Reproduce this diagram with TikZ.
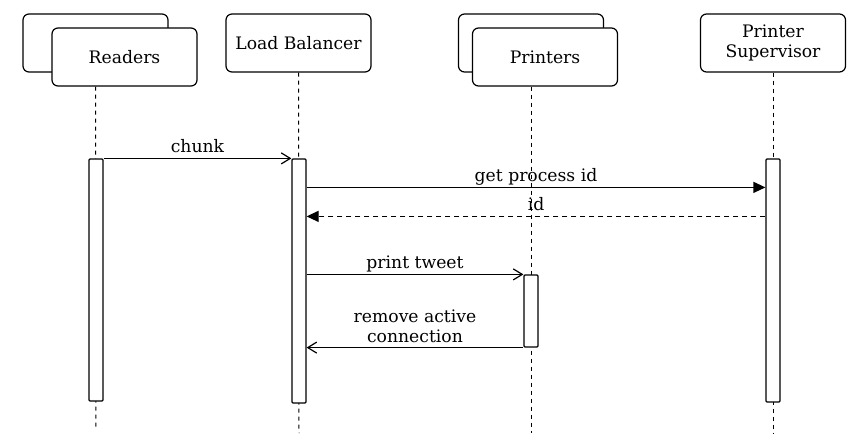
\documentclass[tikz,border=0pt]{standalone}
\usepackage{fontspec}
\setmainfont{DejaVu Serif}
\usetikzlibrary{arrows.meta,positioning,calc}
\tikzset{
        actor/.style = {draw, rectangle, rounded corners=6pt,
            minimum width=145pt, minimum height=58pt,
            align=center, fill=white, line width=1.2pt},
        bar/.style = {draw, rectangle, rounded corners=1pt, fill=white,
            minimum width=14pt, inner sep=0pt, line width=1.2pt},
        lifeline/.style = {draw, dash pattern=on 4pt off 4pt, line width=1pt},
        msg/.style = {draw, -{Straight Barb[length=9pt,width=11pt]}, line width=1.2pt},
        call/.style = {draw, -{Triangle[length=12pt,width=11pt]}, line width=1.2pt},
        reply/.style = {call, dash pattern=on 5pt off 4pt},
        lbl/.style = {midway, above=1.5pt, text depth=0pt},
    }

\begin{document}
\begin{tikzpicture}[x=1pt, y=-1pt, font=\fontsize{17.2}{20}\selectfont]
    \useasboundingbox (0,0) rectangle (864,435);

    % heads
    \node[actor] (rdback) at (95.5,43) {};
    \node[actor] (rd) at (124.5,57) {Readers};
    \node[actor] (lb) at (298.5,43) {Load Balancer};
    \node[actor] (prback) at (531,43) {};
    \node[actor] (pr) at (545,57) {Printers};
    \node[actor] (sp) at (773,43) {Printer\\Supervisor};

    % lifelines
    \coordinate (rdend) at (96,430);
    \coordinate (lbend) at (299,433);
    \coordinate (prend) at (531,433);
    \coordinate (spend) at (773,433);
    \draw[lifeline] (rdback |- rd.south) -- (rdend);
    \draw[lifeline] (lb.south) -- (lbend);
    \draw[lifeline] (prback |- pr.south) -- (prend);
    \draw[lifeline] (sp.south) -- (spend);

    % activations
    \node[bar, minimum height=242pt] (rdbar) at (96,280) {};
    \node[bar, minimum height=244pt] (lbbar) at (299,281) {};
    \node[bar, minimum height=72pt] (prbar) at (531,311) {};
    \node[bar, minimum height=243pt] (spbar) at (773,280.5) {};

    % messages
    \draw[msg] (rdbar.north east) -- (lbbar.north west)
        node[lbl] {chunk};
    \draw[call] ([yshift=-29pt]lbbar.north east) -- ([yshift=-29pt]lbbar.north east -| spbar.west)
        node[lbl] {get process id};
    \draw[reply] ([yshift=-58pt]spbar.north west) -- ([yshift=-58pt]spbar.north west -| lbbar.east)
        node[lbl] {id};
    \draw[msg] (prbar.north west -| lbbar.east) -- (prbar.north west)
        node[lbl] {print tweet};
    \draw[msg] (prbar.south west) -- (prbar.south west -| lbbar.east)
        node[lbl, align=center] {remove active\\connection};
\end{tikzpicture}
\end{document}
